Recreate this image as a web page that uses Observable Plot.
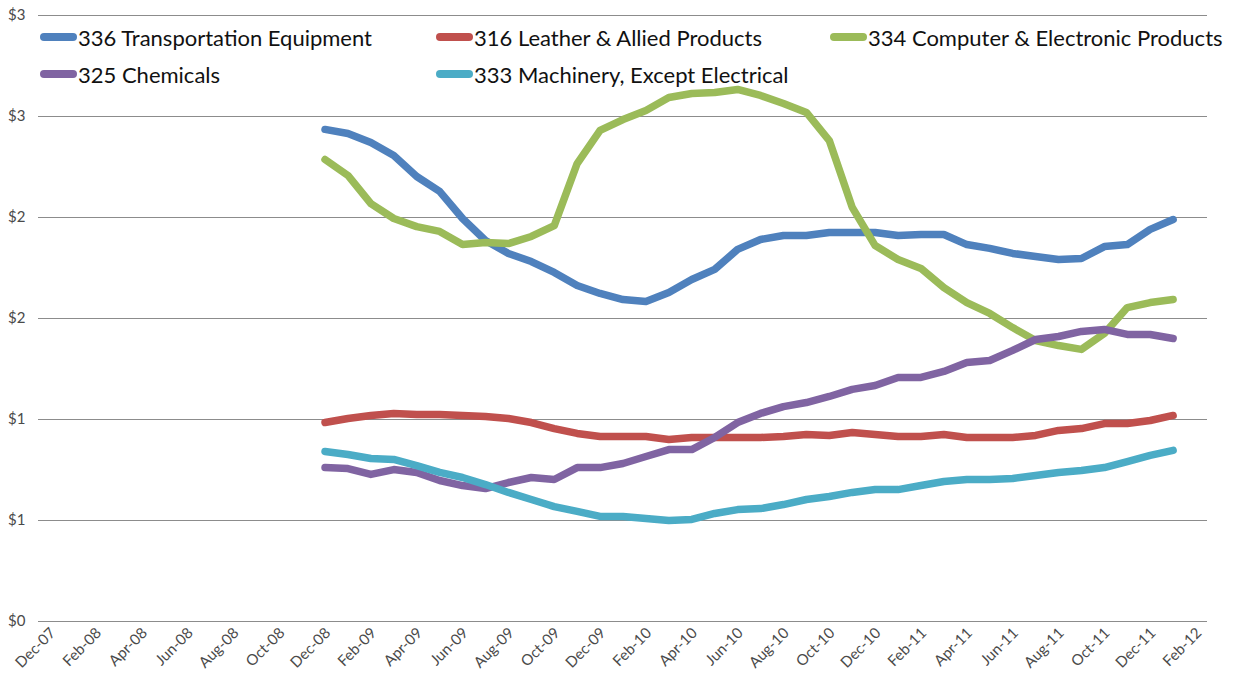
<!DOCTYPE html>
<html>
<head>
<meta charset="utf-8">
<script src="https://cdn.jsdelivr.net/npm/d3@7"></script>
<script src="https://cdn.jsdelivr.net/npm/@observablehq/plot@0.6"></script>
<style>
  html, body { margin: 0; padding: 0; background: #fff; }
  #wrap { position: relative; width: 1234px; height: 675px; overflow: hidden; }
  #legend { position: absolute; left: 40px; top: 23px; display: grid;
    grid-template-columns: 396px 394px auto; row-gap: 9px;
    font-family: Lato, "Open Sans", sans-serif; font-size: 22px; color: #111; }
  .item { display: flex; align-items: center; height: 28px; white-space: nowrap; }
  .sw { width: 37px; height: 8px; border-radius: 4px; margin-right: 1px; }
  #chart svg g, #chart svg text, #chart svg tspan { font-size: 15px !important; }
</style>
</head>
<body>
<div id="wrap"><div id="chart"></div><div id="legend"></div></div>
<script>
const months = ["Dec-07","Jan-08","Feb-08","Mar-08","Apr-08","May-08","Jun-08","Jul-08","Aug-08","Sep-08","Oct-08","Nov-08",
  "Dec-08","Jan-09","Feb-09","Mar-09","Apr-09","May-09","Jun-09","Jul-09","Aug-09","Sep-09","Oct-09","Nov-09",
  "Dec-09","Jan-10","Feb-10","Mar-10","Apr-10","May-10","Jun-10","Jul-10","Aug-10","Sep-10","Oct-10","Nov-10",
  "Dec-10","Jan-11","Feb-11","Mar-11","Apr-11","May-11","Jun-11","Jul-11","Aug-11","Sep-11","Oct-11","Nov-11",
  "Dec-11","Jan-12","Feb-12"];
const tickLabels = ["Dec-07","Feb-08","Apr-08","Jun-08","Aug-08","Oct-08","Dec-08","Feb-09","Apr-09","Jun-09","Aug-09","Oct-09",
  "Dec-09","Feb-10","Apr-10","Jun-10","Aug-10","Oct-10","Dec-10","Feb-11","Apr-11","Jun-11","Aug-11","Oct-11","Dec-11","Feb-12"];
// data months: Dec-08 .. Jan-12
const dataMonths = months.slice(12, 50);

const series = ["336 Transportation Equipment","316 Leather & Allied Products","334 Computer & Electronic Products",
  "325 Chemicals","333 Machinery, Except Electrical"];
const colors = ["#4f81bd","#c0504d","#9bbb59","#8064a2","#4bacc6"];

const transport = [2.436,2.416,2.371,2.307,2.203,2.129,1.995,1.886,1.822,1.782,1.728,1.663,1.624,1.594,1.584,1.629,1.693,1.743,1.842,1.891,
  1.911,1.911,1.926,1.926,1.926,1.911,1.916,1.916,1.866,1.847,1.822,1.807,1.792,1.797,1.856,1.866,1.941,1.990];
const leather = [0.985,1.005,1.020,1.030,1.025,1.025,1.020,1.015,1.005,0.985,0.955,0.931,0.916,0.916,0.916,0.901,0.911,0.911,0.911,0.911,
  0.916,0.926,0.921,0.936,0.926,0.916,0.916,0.926,0.911,0.911,0.911,0.921,0.946,0.955,0.980,0.980,0.995,1.020];
const computer = [2.287,2.208,2.069,1.995,1.955,1.931,1.866,1.876,1.871,1.906,1.960,2.267,2.431,2.485,2.530,2.594,2.614,2.619,2.634,2.604,
  2.564,2.520,2.381,2.050,1.861,1.792,1.748,1.653,1.579,1.525,1.455,1.391,1.366,1.347,1.426,1.554,1.579,1.594];
const chemicals = [0.762,0.757,0.728,0.752,0.738,0.698,0.673,0.658,0.688,0.713,0.703,0.762,0.762,0.782,0.817,0.851,0.851,0.911,0.985,1.030,
  1.064,1.084,1.114,1.149,1.168,1.208,1.208,1.238,1.282,1.292,1.342,1.396,1.411,1.436,1.446,1.421,1.421,1.401];
const machinery = [0.842,0.827,0.807,0.802,0.772,0.738,0.713,0.678,0.639,0.604,0.569,0.545,0.520,0.520,0.510,0.500,0.505,0.535,0.554,0.559,
  0.579,0.604,0.619,0.639,0.653,0.653,0.673,0.693,0.703,0.703,0.708,0.723,0.738,0.748,0.762,0.792,0.822,0.847];
const yTicks = [0, 0.5, 1, 1.5, 2, 2.5, 3];

const valuesBySeries = [transport, leather, computer, chemicals, machinery];
const rows = [];
series.forEach((s, k) => valuesBySeries[k].forEach((v, i) => rows.push({series: s, month: dataMonths[i], value: v})));

const chart = Plot.plot({
  width: 1234,
  height: 675,
  marginLeft: 38,
  marginRight: 27,
  marginTop: 15,
  marginBottom: 54,
  style: {fontFamily: "Lato, 'Open Sans', sans-serif", fontSize: "15px", color: "#4a4a4a", background: "#fff"},
  x: {type: "point", domain: months, padding: 0.5, label: null},
  y: {domain: [0, 3], label: null},
  color: {domain: series, range: colors},
  marks: [
    Plot.gridY(yTicks, {stroke: "#8c8c8c", strokeOpacity: 1, strokeWidth: 1}),
    Plot.axisY(yTicks, {tickSize: 0, tickPadding: 13, tickFormat: d => "$" + Math.round(d), fill: "#4a4a4a", fontSize: 15}),
    Plot.axisX(tickLabels, {tickSize: 0, tickPadding: 9, tickRotate: -45, fill: "#4a4a4a", fontSize: 15, dx: 3}),
    Plot.line(rows, {x: "month", y: "value", z: "series", stroke: "series", strokeWidth: 7.5,
      strokeLinecap: "round", strokeLinejoin: "round"})
  ]
});
document.getElementById("chart").appendChild(chart);

const legend = document.getElementById("legend");
const order = [0, 1, 2, 3, 4];
order.forEach(k => {
  const it = document.createElement("div");
  it.className = "item";
  const sw = document.createElement("div");
  sw.className = "sw";
  sw.style.background = colors[k];
  const tx = document.createElement("span");
  tx.textContent = series[k];
  it.appendChild(sw); it.appendChild(tx);
  legend.appendChild(it);
});
</script>
</body>
</html>
